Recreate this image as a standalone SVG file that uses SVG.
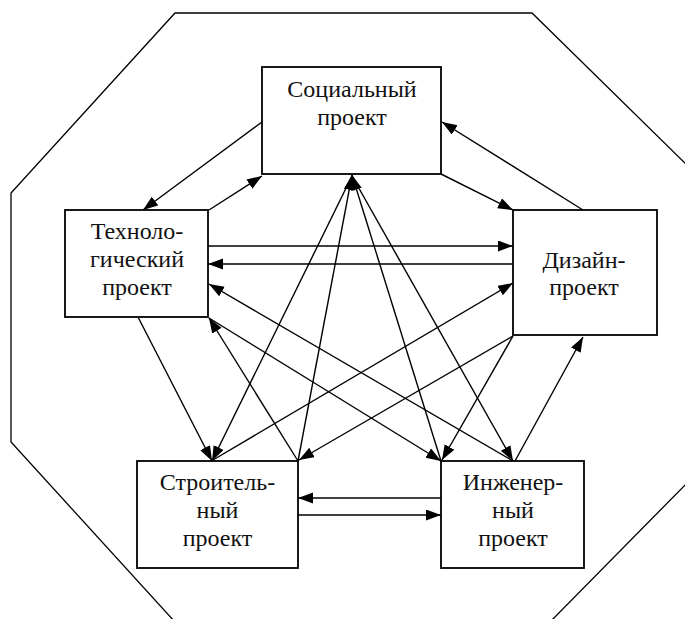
<svg xmlns="http://www.w3.org/2000/svg" width="685" height="619" viewBox="0 0 685 619">
<style>
.box{fill:#fff;stroke:#000;stroke-width:1.8}
.frame{fill:none;stroke:#000;stroke-width:1.3}
.c line{stroke:#000;stroke-width:1.4;marker-end:url(#ah)}
text{font-family:"Liberation Serif","Times New Roman",serif;font-size:24px;fill:#111;text-anchor:middle}
</style>
<defs>
<marker id="ah" markerUnits="userSpaceOnUse" markerWidth="16" markerHeight="12" refX="15" refY="5.5" orient="auto">
<path d="M0,0 L15,5.5 L0,11 z" fill="#000"/>
</marker>
</defs>
<rect width="685" height="619" fill="#fff"/>
<polygon class="frame" points="175,13 532,13 690,168 690,480 550,622 175,622 11,442 11,193"/>
<g id="connectors" class="c">
<line x1="262" y1="122" x2="143" y2="210"/>
<line x1="209" y1="210" x2="262" y2="176"/>
<line x1="441" y1="174" x2="513" y2="210"/>
<line x1="583" y1="210" x2="442" y2="122"/>
<line x1="208" y1="246" x2="513" y2="246"/>
<line x1="513" y1="264" x2="208" y2="264"/>
<line x1="138" y1="317" x2="212" y2="461"/>
<line x1="352" y1="176" x2="212" y2="461"/>
<line x1="298" y1="461" x2="352" y2="175"/>
<line x1="441" y1="461" x2="352" y2="175"/>
<line x1="352" y1="176" x2="513" y2="461"/>
<line x1="298" y1="461" x2="209" y2="318"/>
<line x1="209" y1="318" x2="441" y2="461"/>
<line x1="513" y1="461" x2="209" y2="284"/>
<line x1="213" y1="460" x2="513" y2="283"/>
<line x1="513" y1="336" x2="299" y2="460"/>
<line x1="513" y1="336" x2="442" y2="460"/>
<line x1="515" y1="461" x2="583" y2="337"/>
<line x1="441" y1="498" x2="298" y2="498"/>
<line x1="298" y1="515" x2="441" y2="515"/>
</g>
<g id="social">
<rect class="box" x="262" y="67" width="179" height="107"/>
<text x="352" y="97">Социальный</text>
<text x="352" y="125">проект</text>
</g>
<g id="tech">
<rect class="box" x="65" y="210" width="143" height="107"/>
<text x="137" y="239">Техноло-</text>
<text x="137" y="267">гический</text>
<text x="137" y="295">проект</text>
</g>
<g id="design">
<rect class="box" x="513" y="210" width="144" height="125"/>
<text x="584" y="268">Дизайн-</text>
<text x="584" y="295">проект</text>
</g>
<g id="constr">
<rect class="box" x="137" y="461" width="161" height="107"/>
<text x="217.5" y="490">Строитель-</text>
<text x="217.5" y="518">ный</text>
<text x="217.5" y="546">проект</text>
</g>
<g id="eng">
<rect class="box" x="441" y="461" width="143" height="107"/>
<text x="513" y="490">Инженер-</text>
<text x="513" y="518">ный</text>
<text x="513" y="546">проект</text>
</g>
</svg>
